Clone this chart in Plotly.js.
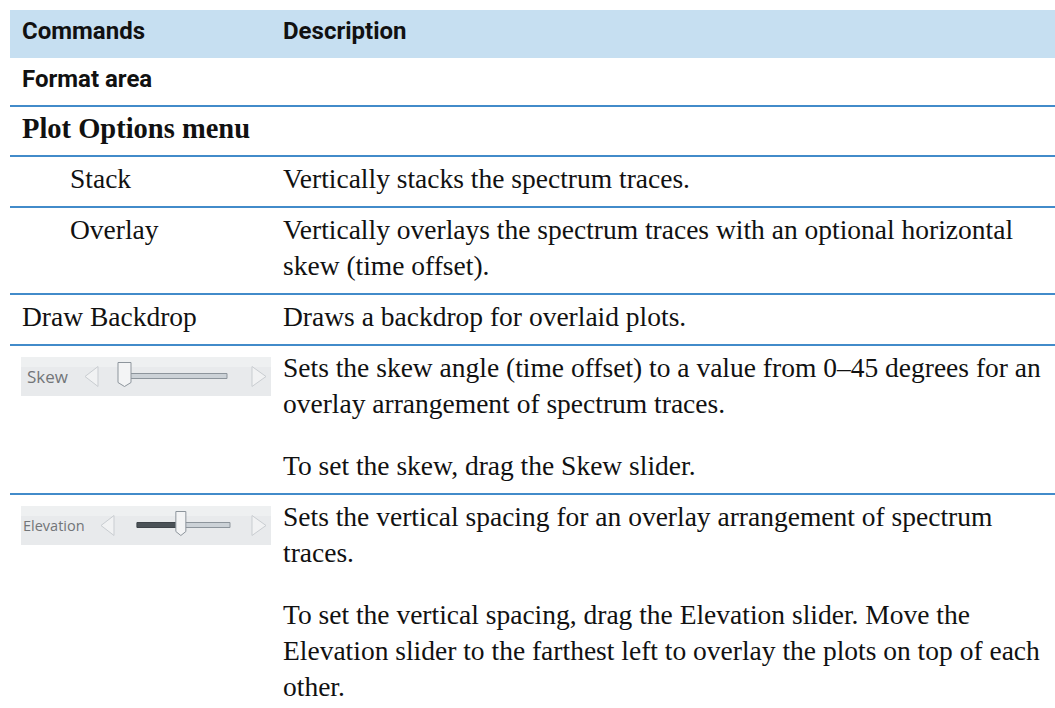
<!DOCTYPE html>
<html>
<head>
<meta charset="utf-8">
<script src="https://cdn.plot.ly/plotly-3.0.1.min.js"></script>
<style>html,body{margin:0;padding:0;background:#fff;overflow:hidden}#chart{width:1055px;height:708px}</style>
</head>
<body>
<div id="chart"></div>
<script>
// ---- table content ----
const headerLabels = ["Commands", "Description"];
const commandLabels = ["Format area", "Plot Options menu", "Stack", "Overlay", "Draw Backdrop", "", ""];
const commandStyles = ["sectionSans", "sectionSerif", "indent", "indent", "plain", "icon", "icon"];
const iconNames = ["", "", "", "", "", "Skew", "Elevation"];
const iconSliderFraction = [0, 0, 0, 0, 0, 0.0, 0.45];
const descriptionParagraphs = [
  [],
  [],
  [["Vertically stacks the spectrum traces."]],
  [["Vertically overlays the spectrum traces with an optional horizontal", "skew (time offset)."]],
  [["Draws a backdrop for overlaid plots."]],
  [["Sets the skew angle (time offset) to a value from 0\u201345 degrees for an", "overlay arrangement of spectrum traces."],
   ["To set the skew, drag the Skew slider."]],
  [["Sets the vertical spacing for an overlay arrangement of spectrum", "traces."],
   ["To set the vertical spacing, drag the Elevation slider. Move the",
    "Elevation slider to the farthest left to overlay the plots on top of each", "other."]]
];

// ---- styling / layout constants ----
const W = 1055, H = 708;
const LEFT = 10, COL1_X = 21, INDENT_X = 69, COL2_X = 282;
const SERIF = "'Liberation Serif', 'Times New Roman', serif";
const NARROW = "Roboto, 'Liberation Sans', sans-serif";
const FS = 27.5, BFS = 28.5, HFS = 24;
const LINE_COLOR = "#428bca", HEADER_FILL = "#c6dff1", TEXT = "#111111";

const annotations = [];
const shapes = [];

function textAt(x, baseline, text, font) {
  annotations.push({
    x: x, y: baseline - 0.3 * font.size, xref: "x", yref: "y",
    text: text, showarrow: false, xanchor: "left", yanchor: "middle",
    borderpad: 0, font: font, align: "left"
  });
}

const headFont = {family: NARROW, size: HFS, color: TEXT, weight: 700, stretch: "semi-condensed"};

// header
let y = 10;
shapes.push({type: "rect", xref: "x", yref: "y", x0: LEFT, x1: W, y0: y, y1: y + 48,
             fillcolor: HEADER_FILL, line: {width: 0}, layer: "below"});
textAt(COL1_X, y + 28, headerLabels[0], headFont);
textAt(COL2_X, y + 28, headerLabels[1], headFont);
y += 48;

function drawSlider(top, label, frac) {
  const x0 = 21, x1 = 271, h = 39;
  const mid = top + h / 2;
  shapes.push({type: "rect", xref: "x", yref: "y", x0: x0, x1: x1, y0: top, y1: top + h,
               fillcolor: "#e8eaec", line: {width: 0}});
  shapes.push({type: "rect", xref: "x", yref: "y", x0: x0, x1: x1, y0: top, y1: top + 10,
               fillcolor: "#eef0f1", line: {width: 0}});
  const isSkew = label === "Skew";
  annotations.push({x: isSkew ? 26 : 22, y: mid, xref: "x", yref: "y", text: label,
    showarrow: false, xanchor: "left", yanchor: "middle", borderpad: 0,
    font: {family: "'Open Sans', 'Noto Sans', sans-serif", size: isSkew ? 17 : 14.5, color: "#727578"}});
  const la = isSkew ? 85 : 101;
  shapes.push({type: "path", xref: "x", yref: "y",
    path: `M ${la + 13},${mid - 10} L ${la},${mid} L ${la + 13},${mid + 10} Z`,
    fillcolor: "#f1f2f3", line: {color: "#c9cdd1", width: 1}});
  shapes.push({type: "path", xref: "x", yref: "y",
    path: `M 252,${mid - 10} L 266,${mid} L 252,${mid + 10} Z`,
    fillcolor: "#f1f2f3", line: {color: "#c9cdd1", width: 1}});
  const t0 = isSkew ? 122 : 137, t1 = isSkew ? 227 : 230;
  shapes.push({type: "rect", xref: "x", yref: "y", x0: t0, x1: t1, y0: mid - 3, y1: mid + 2,
               fillcolor: "#ccd2d7", line: {color: "#8d959c", width: 1}});
  const tx = t0 + frac * (t1 - t0);
  if (frac > 0) {
    shapes.push({type: "rect", xref: "x", yref: "y", x0: t0, x1: tx, y0: mid - 3, y1: mid + 2,
                 fillcolor: "#4b5257", line: {color: "#3e4449", width: 1}});
  }
  const th0 = frac > 0 ? tx - 3 : 118, th1 = th0 + (frac > 0 ? 10 : 13);
  const tc = (th0 + th1) / 2;
  shapes.push({type: "path", xref: "x", yref: "y",
    path: `M ${th0},${mid - 14} L ${th1},${mid - 14} L ${th1},${mid + 6} L ${tc},${mid + 10} L ${th0},${mid + 6} Z`,
    fillcolor: "#f3f4f5", line: {color: "#8d959c", width: 1}});
}

const bodyFont = {family: SERIF, size: FS, color: TEXT};
const n = commandLabels.length;
for (let i = 0; i < n; i++) {
  const style = commandStyles[i];
  const top = y;
  let h;
  if (style === "sectionSans") {
    h = 48;
    textAt(COL1_X, top + 28, commandLabels[i], headFont);
  } else if (style === "sectionSerif") {
    h = 50;
    textAt(COL1_X, top + 31, commandLabels[i], {family: SERIF, size: BFS, color: TEXT, weight: 700});
  } else {
    let b = top + 31;
    const paras = descriptionParagraphs[i];
    paras.forEach((p, pi) => {
      if (pi > 0) b += 62;
      p.forEach((line, li) => {
        if (li > 0) b += 36;
        textAt(COL2_X, b, line, bodyFont);
      });
    });
    h = b + 20 - top;
    if (style === "indent") textAt(INDENT_X, top + 31, commandLabels[i], bodyFont);
    else if (style === "plain") textAt(COL1_X, top + 31, commandLabels[i], bodyFont);
    else if (style === "icon") drawSlider(top + 12, iconNames[i], iconSliderFraction[i]);
  }
  y = top + h;
  if (i < n - 1) {
    shapes.push({type: "line", xref: "x", yref: "y", x0: LEFT, x1: W, y0: y, y1: y,
                 line: {color: LINE_COLOR, width: 2}});
  }
}

const layout = {
  width: W, height: H,
  margin: {l: 0, r: 0, t: 0, b: 0, pad: 0},
  paper_bgcolor: "#ffffff", plot_bgcolor: "#ffffff",
  xaxis: {range: [0, W], visible: false, fixedrange: true},
  yaxis: {range: [H, 0], visible: false, fixedrange: true},
  showlegend: false,
  shapes: shapes,
  annotations: annotations
};
Plotly.newPlot("chart", [{x: [], y: [], type: "scatter", mode: "markers", hoverinfo: "skip"}], layout,
               {displayModeBar: false, staticPlot: true});
</script>
</body>
</html>
